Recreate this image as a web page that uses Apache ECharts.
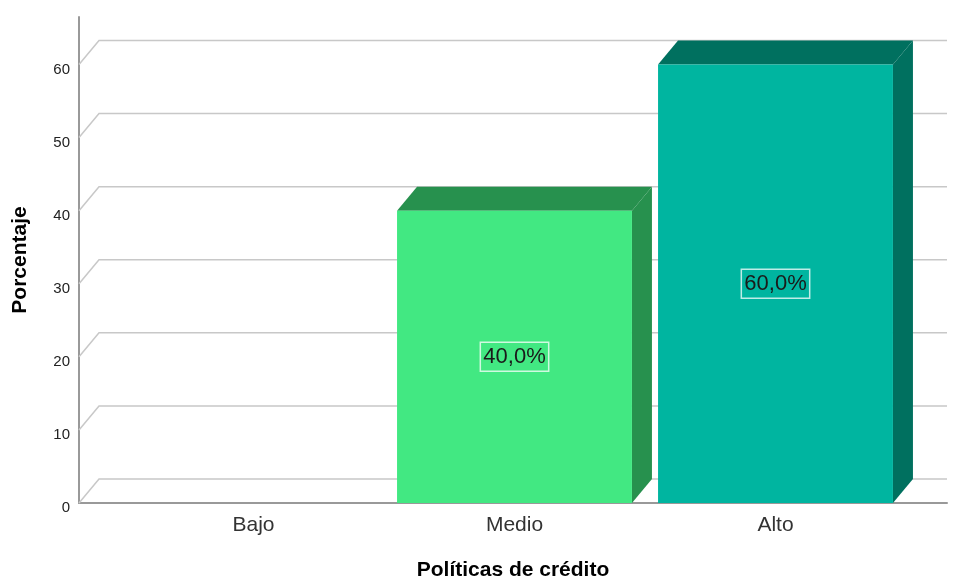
<!DOCTYPE html>
<html>
<head>
<meta charset="utf-8">
<script src="https://cdn.jsdelivr.net/npm/echarts@6/dist/echarts.min.js"></script>
<style>html,body{margin:0;padding:0;background:#fff;}#c{width:959px;height:580px;}</style>
</head>
<body>
<div id="c"></div>
<script>
var categories = ['Bajo', 'Medio', 'Alto'];
var percentages = [0, 40, 60];
var yTicks = [0, 10, 20, 30, 40, 50, 60];
var yTitle = 'Porcentaje';
var xTitle = 'Políticas de crédito';

var FRONT = ['#42E882', '#42E882', '#00B5A0'];
var DARK = ['#27914E', '#27914E', '#00705F'];
var DX = 20, DY = 24;
var YMAX = 66.5;
var FONT = '"Liberation Sans", Arial, sans-serif';

var chart = echarts.init(document.getElementById('c'), null, {renderer: 'canvas'});
chart.setOption({
  animation: false,
  backgroundColor: '#ffffff',
  grid: [
    {left: 79, right: 12, top: 17, bottom: 77, containLabel: false, outerBoundsMode: 'none'},
    {left: 123, right: 53, top: 17, bottom: 77, containLabel: false, outerBoundsMode: 'none'}
  ],
  xAxis: [
    {gridIndex: 0, type: 'value', min: 0, max: 1, show: true,
      axisLine: {show: true, onZero: false, lineStyle: {color: '#999999', width: 2}},
      axisTick: {show: false}, axisLabel: {show: false}, splitLine: {show: false},
      name: xTitle, nameLocation: 'middle', nameGap: 57,
      nameTextStyle: {fontFamily: FONT, fontSize: 21, fontWeight: 'bold', color: '#000'}},
    {gridIndex: 1, type: 'category', data: categories,
      axisLine: {show: false}, axisTick: {show: false},
      axisLabel: {fontFamily: FONT, fontSize: 21, color: '#333', margin: 12},
      splitLine: {show: false}}
  ],
  yAxis: [
    {gridIndex: 0, type: 'value', min: 0, max: YMAX, interval: 10,
      axisLine: {show: true, lineStyle: {color: '#999999', width: 2}},
      axisTick: {show: false}, splitLine: {show: false},
      axisLabel: {fontFamily: FONT, fontSize: 15, color: '#222', margin: 9,
        verticalAlign: 'top', lineHeight: 10,
        showMaxLabel: false,
        formatter: function (v) { return v % 10 === 0 ? String(v) : ''; }},
      name: yTitle, nameLocation: 'middle', nameGap: 48, nameRotate: 90,
      nameTextStyle: {fontFamily: FONT, fontSize: 21, fontWeight: 'bold', color: '#000'}},
    {gridIndex: 1, type: 'value', min: 0, max: YMAX, show: false}
  ],
  series: [
    {
      type: 'custom', xAxisIndex: 0, yAxisIndex: 0, z: 1,
      data: yTicks.map(function (v) { return [v]; }),
      renderItem: function (params, api) {
        var v = api.value(0);
        var p0 = api.coord([0, v]);
        var p1 = api.coord([1, v]);
        return {
          type: 'polyline',
          shape: {points: [[p0[0], p0[1]], [p0[0] + DX, p0[1] - DY], [p1[0], p1[1] - DY]]},
          style: {stroke: '#c8c8c8', lineWidth: 1.5, fill: null}
        };
      }
    },
    {
      type: 'custom', xAxisIndex: 1, yAxisIndex: 1, z: 5,
      data: percentages.map(function (v, i) { return [i, v]; }),
      renderItem: function (params, api) {
        var idx = api.value(0), val = api.value(1);
        if (!val) return null;
        var top = api.coord([idx, val]);
        var base = api.coord([idx, 0]);
        var w = api.size([1, 0])[0] * 0.9;
        var x0 = top[0] - w / 2, x1 = top[0] + w / 2;
        var yT = top[1], yB = base[1];
        var label = val.toFixed(1).replace('.', ',') + '%';
        return {
          type: 'group',
          children: [
            {type: 'polygon', shape: {points: [[x0, yT], [x0 + DX, yT - DY], [x1 + DX, yT - DY], [x1, yT]]},
              style: {fill: DARK[idx]}},
            {type: 'polygon', shape: {points: [[x1, yT], [x1 + DX, yT - DY], [x1 + DX, yB - DY], [x1, yB]]},
              style: {fill: DARK[idx]}},
            {type: 'rect', shape: {x: x0, y: yT, width: w, height: yB - yT},
              style: {fill: FRONT[idx]}},
            {type: 'text', x: top[0], y: (yT + yB) / 2,
              style: {text: label, fontFamily: FONT, fontSize: 22, fill: '#1a1a1a',
                align: 'center', verticalAlign: 'middle',
                padding: [4, 3, 3, 3], borderColor: 'rgba(255,255,255,0.75)', borderWidth: 1.5}}
          ]
        };
      }
    }
  ]
});
</script>
</body>
</html>
